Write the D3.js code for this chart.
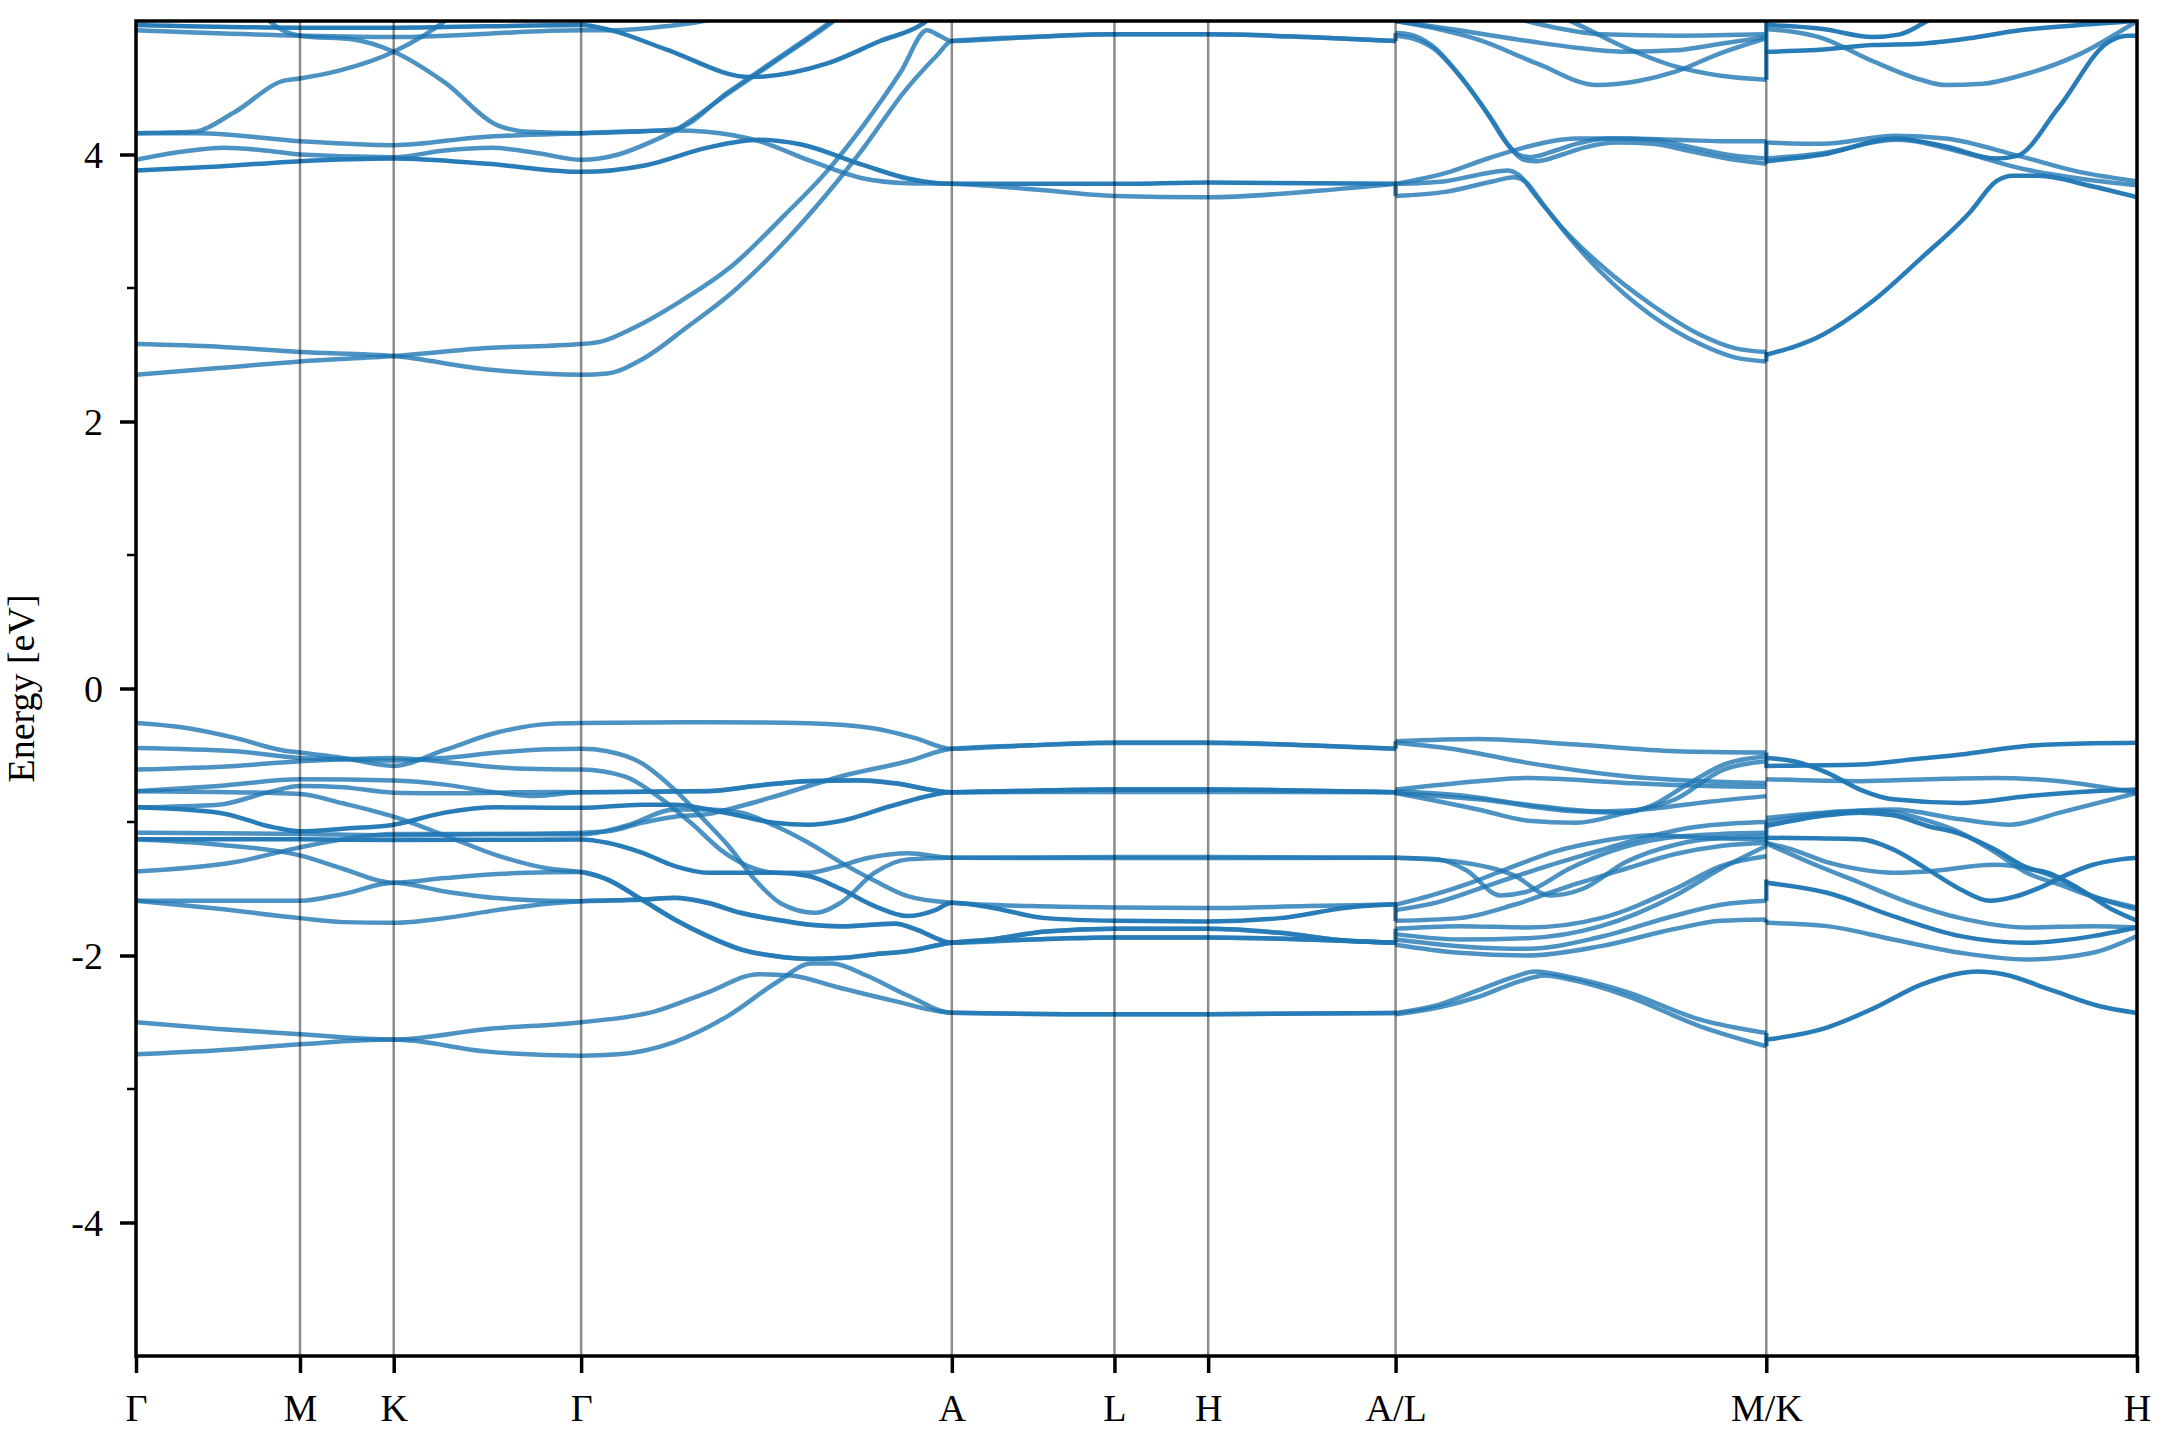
<!DOCTYPE html>
<html>
<head>
<meta charset="utf-8">
<script src="https://cdn.jsdelivr.net/npm/d3@7"></script>
<style>
  body { margin: 0; background: #fff; }
  text { font-family: "Liberation Serif", "Times New Roman", serif; }
</style>
</head>
<body>
<div id="chart"></div>
<script>
// k-path ticks (cumulative path length, arbitrary units) and labels
var kTicks = [0, 119, 187, 323, 592, 710, 778, 914, 1183, 1452];
var kLabels = ["Γ", "M", "K", "Γ", "A", "L", "H", "A/L", "M/K", "H"];
var eTicks = [-4, -2, 0, 2, 4];
var eMinor = [-3, -1, 1, 3];

// ---- panel Γ-M-K-Γ-A-L-H-A : conduction bands ----
var cPA = [[0,2.58],[60,2.56],[119,2.52],[187,2.49],[255,2.39],[323,2.35],[342,2.36],[368,2.47],[399,2.70],[433,2.97],[471,3.35],[501,3.70],[528,4.05],[559,4.49],[581,4.74],[592,4.85],[650,4.88],[710,4.90],[778,4.90],[850,4.88],[914,4.85]];
var cPB = [[0,2.35],[60,2.40],[119,2.45],[187,2.49],[255,2.55],[323,2.58],[338,2.60],[361,2.70],[395,2.90],[433,3.17],[471,3.55],[501,3.87],[528,4.22],[555,4.62],[574,4.93],[583,4.89],[592,4.85],[650,4.88],[710,4.90],[778,4.90],[850,4.88],[914,4.85]];
var cQ1 = [[0,3.88],[60,3.91],[119,3.95],[187,3.97],[255,3.93],[323,3.87],[370,3.92],[414,4.05],[452,4.11],[480,4.08],[528,3.92],[560,3.82],[592,3.78],[710,3.78],[778,3.79],[914,3.78]];
var cQ2 = [[0,3.96],[33,4.02],[64,4.05],[94,4.03],[119,4.00],[187,3.98],[224,4.03],[258,4.05],[292,4.01],[323,3.96],[350,4.00],[375,4.10],[391,4.18],[430,4.46],[470,4.74],[505,4.99],[525,5.15]];
var cQ3 = [[0,4.16],[45,4.16],[119,4.10],[187,4.07],[250,4.13],[323,4.16],[391,4.18],[414,4.17],[452,4.10],[490,3.95],[528,3.82],[560,3.785],[592,3.78],[650,3.74],[710,3.69],[778,3.68],[860,3.73],[914,3.78]];
var cQ4 = [[0,4.16],[41,4.17],[72,4.32],[106,4.55],[119,4.57],[148,4.63],[187,4.77],[224,5.00],[240,5.15]];
var cQ5 = [[85,5.15],[98,4.99],[119,4.89],[159,4.86],[187,4.77],[224,4.54],[262,4.22],[285,4.17],[323,4.16],[360,4.17],[391,4.19],[430,4.47],[470,4.75],[505,5.00],[525,5.15]];
var cU1 = [[0,4.93],[119,4.89],[187,4.88],[323,4.93],[345,4.93],[384,4.96],[420,5.02],[440,5.10]];
var cU2 = [[0,4.97],[119,4.95],[187,4.95],[323,4.97],[345,4.93],[384,4.79],[446,4.58],[501,4.68],[540,4.85],[571,4.98],[585,5.10]];

// ---- panel Γ-M-K-Γ-A-L-H-A : valence bands ----
var vA = [[0,-0.258],[33,-0.29],[72,-0.37],[105,-0.46],[119,-0.48],[150,-0.52],[187,-0.58],[224,-0.46],[262,-0.33],[300,-0.265],[323,-0.258],[415,-0.252],[488,-0.26],[536,-0.30],[565,-0.37],[592,-0.452],[650,-0.425],[710,-0.408],[778,-0.408],[850,-0.425],[914,-0.452]];
var vB = [[0,-0.445],[72,-0.47],[119,-0.52],[150,-0.53],[187,-0.54],[224,-0.52],[262,-0.48],[300,-0.455],[323,-0.452],[342,-0.47],[367,-0.56],[391,-0.76],[410,-0.96],[430,-1.18],[449,-1.43],[468,-1.61],[493,-1.68],[512,-1.60],[536,-1.38],[560,-1.28],[592,-1.268],[710,-1.27],[778,-1.27],[914,-1.268]];
var vC = [[0,-0.607],[72,-0.58],[119,-0.545],[150,-0.53],[187,-0.52],[224,-0.55],[262,-0.59],[300,-0.605],[323,-0.607],[355,-0.66],[379,-0.81],[403,-1.01],[427,-1.23],[444,-1.33],[464,-1.38],[488,-1.38],[507,-1.34],[531,-1.27],[560,-1.235],[592,-1.268],[710,-1.262],[778,-1.262],[914,-1.268]];
var vD = [[0,-0.77],[60,-0.73],[119,-0.68],[187,-0.69],[224,-0.72],[262,-0.78],[290,-0.805],[323,-0.777],[415,-0.77],[450,-0.73],[488,-0.694],[524,-0.69],[550,-0.71],[592,-0.777],[710,-0.775],[778,-0.775],[914,-0.777]];
var vF = [[0,-0.89],[60,-0.87],[95,-0.78],[119,-0.73],[150,-0.74],[187,-0.78],[224,-0.785],[262,-0.78],[300,-0.775],[323,-0.777],[415,-0.768],[450,-0.728],[488,-0.692],[524,-0.688],[550,-0.708],[592,-0.777],[710,-0.757],[778,-0.757],[914,-0.777]];
var vE = [[0,-0.77],[60,-0.775],[119,-0.79],[150,-0.86],[187,-0.96],[224,-1.10],[262,-1.25],[300,-1.35],[323,-1.375],[342,-1.43],[367,-1.58],[391,-1.73],[415,-1.855],[439,-1.954],[464,-2.004],[488,-2.024],[512,-2.017],[536,-1.99],[560,-1.967],[592,-1.904],[620,-1.88],[660,-1.82],[710,-1.80],[778,-1.80],[830,-1.83],[880,-1.89],[914,-1.904]];
var vI2 = [[0,-1.13],[60,-1.17],[119,-1.25],[150,-1.35],[187,-1.455],[224,-1.42],[262,-1.39],[300,-1.377],[323,-1.375],[342,-1.432],[367,-1.582],[391,-1.732],[415,-1.857],[439,-1.956],[464,-2.006],[488,-2.026],[512,-2.019],[536,-1.992],[560,-1.969],[592,-1.904],[650,-1.88],[710,-1.865],[778,-1.865],[850,-1.88],[914,-1.904]];
var vG = [[0,-0.89],[60,-0.93],[100,-1.04],[119,-1.07],[150,-1.05],[187,-1.02],[224,-0.93],[262,-0.89],[300,-0.893],[323,-0.894],[367,-0.87],[391,-0.87],[415,-0.905],[439,-0.956],[463,-1.006],[488,-1.02],[512,-0.99],[548,-0.88],[592,-0.777],[650,-0.765],[710,-0.757],[778,-0.757],[850,-0.765],[914,-0.777]];
var vH = [[0,-1.08],[60,-1.085],[119,-1.09],[187,-1.10],[255,-1.09],[323,-1.08],[342,-1.07],[367,-1.006],[391,-0.96],[415,-0.94],[439,-0.88],[464,-0.807],[512,-0.657],[560,-0.545],[592,-0.452],[650,-0.425],[710,-0.405],[778,-0.405],[850,-0.425],[914,-0.452]];
var vJ = [[0,-1.37],[72,-1.30],[119,-1.19],[150,-1.13],[187,-1.09],[255,-1.09],[323,-1.094],[355,-1.03],[391,-0.906],[415,-0.906],[439,-0.931],[464,-1.03],[488,-1.156],[512,-1.306],[536,-1.44],[560,-1.555],[592,-1.605],[650,-1.63],[710,-1.64],[778,-1.645],[850,-1.63],[914,-1.617]];
var vI = [[0,-1.13],[119,-1.13],[187,-1.135],[255,-1.133],[323,-1.131],[342,-1.156],[367,-1.23],[391,-1.33],[415,-1.38],[464,-1.38],[488,-1.405],[512,-1.505],[536,-1.63],[560,-1.705],[580,-1.66],[592,-1.605],[620,-1.64],[660,-1.72],[710,-1.74],[778,-1.745],[830,-1.72],[880,-1.64],[914,-1.617]];
var vL = [[0,-1.59],[60,-1.59],[119,-1.59],[150,-1.54],[187,-1.455],[224,-1.52],[262,-1.57],[300,-1.59],[323,-1.593],[367,-1.58],[391,-1.568],[415,-1.605],[439,-1.68],[464,-1.73],[488,-1.767],[512,-1.78],[536,-1.767],[551,-1.76],[565,-1.80],[592,-1.904],[620,-1.88],[660,-1.82],[710,-1.80],[778,-1.80],[830,-1.83],[880,-1.89],[914,-1.904]];
var vL2 = [[0,-1.59],[60,-1.65],[119,-1.72],[150,-1.75],[187,-1.755],[224,-1.72],[262,-1.66],[300,-1.61],[323,-1.593],[367,-1.582],[391,-1.57],[415,-1.607],[439,-1.682],[464,-1.732],[488,-1.769],[512,-1.782],[536,-1.769],[551,-1.762],[565,-1.80],[592,-1.904],[650,-1.88],[710,-1.865],[778,-1.865],[850,-1.88],[914,-1.904]];
var vM = [[0,-2.50],[60,-2.55],[119,-2.59],[187,-2.63],[255,-2.55],[323,-2.50],[376,-2.42],[414,-2.28],[452,-2.14],[475,-2.15],[510,-2.24],[550,-2.34],[592,-2.428],[710,-2.44],[778,-2.44],[914,-2.43]];
var vN = [[0,-2.74],[60,-2.71],[119,-2.665],[187,-2.63],[255,-2.72],[323,-2.75],[350,-2.74],[390,-2.65],[430,-2.45],[465,-2.20],[490,-2.06],[505,-2.06],[530,-2.15],[560,-2.30],[592,-2.428],[710,-2.44],[778,-2.44],[914,-2.43]];

// ---- panel L-M ----
var lmS1 = [[914,4.91],[924,4.90],[940,4.82],[960,4.60],[981,4.30],[995,4.08],[1003,4.00],[1012,3.98],[1030,4.03],[1045,4.08],[1070,4.12],[1100,4.11],[1130,4.05],[1160,3.99],[1183,3.97]];
var lmS2 = [[914,4.89],[926,4.87],[942,4.79],[962,4.57],[984,4.26],[998,4.04],[1007,3.96],[1017,3.95],[1035,4.00],[1050,4.05],[1075,4.09],[1100,4.08],[1130,4.02],[1160,3.96],[1183,3.93]];
var lmS3 = [[914,3.78],[950,3.86],[981,3.97],[1010,4.06],[1045,4.12],[1081,4.12],[1117,4.11],[1150,4.10],[1183,4.10]];
var lmS4 = [[914,3.78],[950,3.80],[980,3.86],[995,3.88],[1003,3.85],[1015,3.70],[1035,3.45],[1063,3.17],[1099,2.88],[1135,2.65],[1160,2.55],[1183,2.52]];
var lmS5 = [[914,3.69],[950,3.72],[985,3.80],[1000,3.83],[1008,3.80],[1020,3.64],[1040,3.38],[1063,3.12],[1099,2.80],[1135,2.58],[1160,2.48],[1183,2.45]];
var lmV1 = [[914,5.00],[940,4.95],[974,4.86],[1017,4.68],[1060,4.52],[1090,4.55],[1117,4.62],[1150,4.76],[1183,4.87]];
var lmV2 = [[1030,5.05],[1045,4.98],[1081,4.80],[1117,4.66],[1150,4.59],[1183,4.56]];
var lmV3 = [[914,5.00],[960,4.93],[1010,4.85],[1045,4.80],[1081,4.77],[1117,4.78],[1150,4.83],[1183,4.88]];
var lmV4 = [[990,5.05],[1030,4.95],[1063,4.90],[1120,4.89],[1183,4.90]];
var lmP1 = [[914,-0.395],[974,-0.378],[1045,-0.42],[1117,-0.47],[1183,-0.48]];
var lmP2 = [[914,-0.407],[960,-0.46],[1010,-0.557],[1081,-0.657],[1152,-0.70],[1183,-0.707]];
var lmP3 = [[914,-0.757],[974,-0.694],[1010,-0.67],[1081,-0.707],[1140,-0.73],[1183,-0.736]];
var lmP4 = [[914,-0.782],[974,-0.83],[1045,-0.92],[1080,-0.93],[1099,-0.88],[1124,-0.73],[1152,-0.57],[1183,-0.507]];
var lmP5 = [[914,-0.782],[974,-0.906],[1010,-0.99],[1045,-1.006],[1081,-0.931],[1117,-0.83],[1152,-0.607],[1183,-0.545]];
var lmP6 = [[914,-0.77],[960,-0.80],[1010,-0.87],[1060,-0.92],[1100,-0.90],[1140,-0.85],[1183,-0.806]];
var lmR1 = [[914,-1.268],[945,-1.28],[965,-1.36],[990,-1.55],[1010,-1.52],[1040,-1.35],[1070,-1.22],[1110,-1.12],[1150,-1.09],[1183,-1.081]];
var lmR2 = [[914,-1.268],[960,-1.30],[1000,-1.40],[1026,-1.55],[1050,-1.50],[1081,-1.30],[1117,-1.17],[1150,-1.12],[1183,-1.11]];
var lmM1 = [[914,-1.62],[940,-1.55],[970,-1.45],[1000,-1.33],[1030,-1.22],[1060,-1.15],[1100,-1.10],[1140,-1.12],[1183,-1.13]];
var lmM2 = [[914,-1.66],[945,-1.60],[980,-1.48],[1015,-1.36],[1050,-1.25],[1090,-1.13],[1130,-1.04],[1160,-1.01],[1183,-1.00]];
var lmM3 = [[914,-1.74],[960,-1.72],[1000,-1.62],[1040,-1.48],[1081,-1.35],[1117,-1.24],[1150,-1.18],[1183,-1.156]];
var lmC1 = [[914,-1.80],[960,-1.78],[1010,-1.79],[1063,-1.72],[1117,-1.50],[1150,-1.33],[1183,-1.256]];
var lmC2 = [[914,-1.84],[960,-1.88],[1010,-1.87],[1063,-1.78],[1117,-1.55],[1150,-1.35],[1183,-1.18]];
var lmC3 = [[914,-1.88],[960,-1.93],[1010,-1.95],[1063,-1.86],[1117,-1.70],[1150,-1.62],[1183,-1.59]];
var lmC4 = [[914,-1.92],[960,-1.98],[1010,-2.00],[1063,-1.93],[1117,-1.80],[1150,-1.74],[1183,-1.73]];
var lmD1 = [[914,-2.43],[945,-2.37],[974,-2.26],[1000,-2.16],[1015,-2.12],[1040,-2.16],[1081,-2.27],[1135,-2.48],[1183,-2.58]];
var lmD2 = [[914,-2.44],[945,-2.39],[974,-2.31],[1005,-2.19],[1022,-2.15],[1045,-2.19],[1081,-2.30],[1135,-2.53],[1183,-2.68]];

// ---- panel K-H ----
var khV5 = [[1183,4.77],[1215,4.78],[1260,4.82],[1295,4.83],[1330,4.87],[1367,4.93],[1410,4.97],[1452,5.00]];
var khV6 = [[1183,4.97],[1224,4.94],[1260,4.88],[1280,4.90],[1300,5.00],[1310,5.05]];
var khV7 = [[1183,4.94],[1224,4.87],[1260,4.70],[1295,4.56],[1313,4.52],[1340,4.53],[1367,4.59],[1410,4.75],[1452,5.00]];
var khW1 = [[1183,2.50],[1224,2.65],[1260,2.90],[1295,3.22],[1331,3.57],[1350,3.80],[1362,3.84],[1380,3.84],[1420,3.76],[1452,3.68]];
var khW2 = [[1183,3.95],[1224,4.00],[1277,4.12],[1313,4.06],[1350,3.97],[1365,3.99],[1395,4.35],[1431,4.84],[1445,4.89],[1452,4.89]];
var khW3 = [[1183,4.09],[1224,4.08],[1277,4.14],[1313,4.12],[1366,3.99],[1410,3.87],[1452,3.80]];
var khW4 = [[1183,3.97],[1224,4.01],[1277,4.11],[1331,4.00],[1366,3.90],[1410,3.82],[1452,3.77]];
var khH1 = [[1183,-0.52],[1203,-0.545],[1227,-0.63],[1251,-0.757],[1275,-0.83],[1324,-0.857],[1372,-0.807],[1420,-0.77],[1452,-0.757]];
var khH2 = [[1183,-0.58],[1251,-0.57],[1290,-0.53],[1324,-0.495],[1372,-0.43],[1420,-0.41],[1452,-0.407]];
var khH3 = [[1183,-0.68],[1251,-0.694],[1300,-0.68],[1348,-0.67],[1396,-0.694],[1452,-0.782]];
var khH4 = [[1183,-0.97],[1239,-0.92],[1275,-0.906],[1324,-0.98],[1360,-1.02],[1396,-0.93],[1452,-0.782]];
var khH4b = [[1183,-1.03],[1227,-0.95],[1251,-0.93],[1275,-0.95],[1300,-1.03],[1324,-1.09],[1348,-1.20],[1372,-1.34],[1390,-1.39],[1410,-1.50],[1433,-1.65],[1452,-1.74]];
var khH4c = [[1183,-1.00],[1230,-0.93],[1263,-0.915],[1300,-0.99],[1324,-1.08],[1348,-1.22],[1372,-1.38],[1396,-1.47],[1420,-1.56],[1452,-1.64]];
var khH5 = [[1183,-1.118],[1251,-1.13],[1275,-1.205],[1300,-1.355],[1324,-1.505],[1345,-1.59],[1363,-1.56],[1384,-1.48],[1400,-1.40],[1420,-1.32],[1440,-1.28],[1452,-1.268]];
var khH6 = [[1183,-1.16],[1215,-1.305],[1251,-1.455],[1287,-1.605],[1324,-1.72],[1372,-1.79],[1420,-1.78],[1452,-1.79]];
var khH7 = [[1183,-1.156],[1203,-1.21],[1227,-1.30],[1251,-1.355],[1275,-1.38],[1300,-1.37],[1348,-1.32],[1384,-1.38],[1420,-1.555],[1452,-1.655]];
var khH8 = [[1183,-1.455],[1227,-1.53],[1275,-1.705],[1324,-1.855],[1372,-1.905],[1420,-1.855],[1452,-1.79]];
var khH9 = [[1183,-1.755],[1227,-1.78],[1275,-1.88],[1324,-1.98],[1372,-2.03],[1420,-1.98],[1452,-1.855]];
var khH10 = [[1183,-2.63],[1224,-2.55],[1260,-2.40],[1295,-2.22],[1320,-2.14],[1336,-2.12],[1355,-2.14],[1390,-2.26],[1425,-2.38],[1452,-2.43]];

// vertical jumps where the path breaks (k, E from, E to)
var jumps = [[914,3.69,3.78],[914,4.85,4.91],[914,-0.452,-0.395],[914,-1.742,-1.605],[914,-1.904,-1.80],
    [1183,2.45,2.52],[1183,3.93,4.10],[1183,4.56,5.0],[1183,-0.595,-0.48],[1183,-1.156,-1.0],
    [1183,-1.59,-1.43],[1183,-1.755,-1.73],[1183,-2.68,-2.58]];

// bands seen once, and bands where both spins coincide (drawn darker)
var singleBands = [cPA, cPB, cQ2, cQ3, cQ4, cQ5, cU1,
    vA, vB, vC, vD, vF, vE, vI2, vH, vJ, vL, vL2, vM, vN,
    lmS1, lmS2, lmS3, lmS4, lmS5, lmV1, lmV2, lmV3, lmV4,
    lmP1, lmP2, lmP3, lmP4, lmP5, lmP6, lmR1, lmR2, lmM1, lmM2, lmM3,
    lmC1, lmC2, lmC3, lmC4, lmD1, lmD2,
    khV7, khW3, khW4, khH3, khH4, khH4c, khH6, khH7, khH9];
var pairedBands = [cQ1, cU2, vG, vI, khV5, khV6, khW1, khW2,
    khH1, khH2, khH4b, khH5, khH8, khH10];

(function () {

    var width = 2160
        , height = 1440
        , left = 136
        , right = 2137
        , top = 21
        , bottom = 1356
        , blue = '#1f77b4'
        , fontSize = 38;

    var svg = d3.select('#chart').append('svg')
        .attr('width', width)
        .attr('height', height)
        .style('background', '#fff');

    var x = d3.scaleLinear().domain([0, 1452]).range([left, right]);
    var y = d3.scaleLinear().domain([-5, 5]).range([bottom, top]);

    svg.append('clipPath').attr('id', 'clip')
        .append('rect')
        .attr('x', left).attr('y', top)
        .attr('width', right - left).attr('height', bottom - top);

    var line = d3.line()
        .x(function (d) { return x(d[0]); })
        .y(function (d) { return y(d[1]); })
        .curve(d3.curveMonotoneX);

    var g = svg.append('g').attr('clip-path', 'url(#clip)');

    function drawBands(list, opacity) {
        g.selectAll(null)
            .data(list)
            .enter().append('path')
            .attr('d', line)
            .attr('fill', 'none')
            .attr('stroke', blue)
            .attr('stroke-width', 4.5)
            .attr('stroke-opacity', opacity)
            .attr('stroke-linejoin', 'round');
    }

    drawBands(singleBands, 0.8);
    drawBands(pairedBands, 0.96);

    g.selectAll(null)
        .data(jumps)
        .enter().append('line')
        .attr('x1', function (d) { return x(d[0]); })
        .attr('x2', function (d) { return x(d[0]); })
        .attr('y1', function (d) { return y(d[1]); })
        .attr('y2', function (d) { return y(d[2]); })
        .attr('stroke', blue)
        .attr('stroke-width', 4.5)
        .attr('stroke-opacity', 0.85);

    // high-symmetry lines
    svg.append('g').selectAll('line')
        .data(kTicks.slice(1, -1))
        .enter().append('line')
        .attr('x1', function (d) { return x(d); })
        .attr('x2', function (d) { return x(d); })
        .attr('y1', top)
        .attr('y2', bottom)
        .attr('stroke', '#000')
        .attr('stroke-opacity', 0.45)
        .attr('stroke-width', 2.5);

    // axes
    var yAxis = svg.append('g')
        .attr('transform', 'translate(' + left + ',0)')
        .call(d3.axisLeft(y).tickValues(eTicks).tickSize(16).tickSizeOuter(0).tickPadding(17)
            .tickFormat(function (d) { return String(d); }));

    var xAxis = svg.append('g')
        .attr('transform', 'translate(0,' + bottom + ')')
        .call(d3.axisBottom(x).tickValues(kTicks).tickSize(17).tickSizeOuter(0)
            .tickFormat(function (d, i) { return kLabels[i]; }));

    [yAxis, xAxis].forEach(function (ax) {
        ax.select('.domain').remove();
        ax.selectAll('.tick line').attr('stroke', '#000').attr('stroke-width', 3.5);
        ax.selectAll('.tick text')
            .attr('fill', '#000')
            .style('font-family', '"Liberation Serif", "Times New Roman", serif')
            .style('font-size', fontSize + 'px');
    });
    xAxis.selectAll('.tick text').attr('y', 65).attr('dy', 0);
    yAxis.selectAll('.tick text').attr('dy', '0.34em');

    svg.append('g').selectAll('line')
        .data(eMinor)
        .enter().append('line')
        .attr('x1', left - 9).attr('x2', left)
        .attr('y1', function (d) { return y(d); })
        .attr('y2', function (d) { return y(d); })
        .attr('stroke', '#000')
        .attr('stroke-width', 2.5);

    // frame
    svg.append('rect')
        .attr('x', left).attr('y', top)
        .attr('width', right - left).attr('height', bottom - top)
        .attr('fill', 'none')
        .attr('stroke', '#000')
        .attr('stroke-width', 3.5);

    svg.append('text')
        .attr('transform', 'translate(34,' + ((top + bottom) / 2) + ') rotate(-90)')
        .attr('text-anchor', 'middle')
        .style('font-size', fontSize + 'px')
        .text('Energy [eV]');

}());
</script>
</body>
</html>
